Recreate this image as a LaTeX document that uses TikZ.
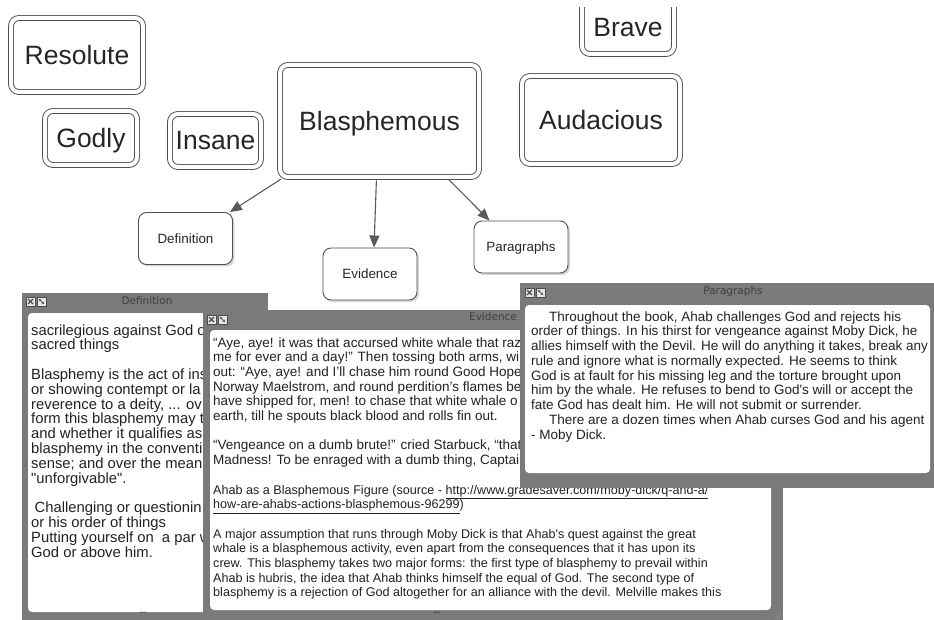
\documentclass[tikz,border=0pt]{standalone}
\usepackage{fontspec}
\setmainfont{Liberation Sans}[Ligatures=TeXOff]
\newfontfamily\wintitlefont{DejaVu Sans}
\usetikzlibrary{arrows.meta,shadows}
\definecolor{boxline}{HTML}{505050}
\definecolor{winframe}{HTML}{7A7A7A}
\definecolor{conncol}{HTML}{5A5A5A}
\definecolor{btnfill}{HTML}{E6E6E6}
\definecolor{bodytext}{HTML}{222222}
\begin{document}
\begin{tikzpicture}[x=1pt,y=-1pt,
  bigbox/.style={draw=boxline, double=white, double distance=4pt, line width=0.9pt,
    rounded corners=8pt, fill=white, inner sep=0pt, text=black!85,
    font=\fontsize{26.5}{30}\selectfont, text height=19pt, text depth=0pt,
    drop shadow={shadow xshift=2pt, shadow yshift=-2pt, opacity=0.3}},
  smallbox/.style={draw=boxline, line width=0.9pt, rounded corners=8pt, fill=white,
    minimum width=94pt, minimum height=52pt, inner sep=0pt, text=black!85,
    font=\fontsize{13.4}{16}\selectfont, text height=9.6pt, text depth=0pt,
    drop shadow={shadow xshift=2pt, shadow yshift=-2pt, opacity=0.3}},
  conn/.style={draw=conncol, line width=1.1pt, shorten <=3pt,
    -{Triangle[length=12pt,width=10pt]}},
  wintitle/.style={font=\wintitlefont\fontsize{10.5}{12}\selectfont, text=black!75, inner sep=0pt},
  winbody/.style={fill=white, rounded corners=4pt},
  textblock/.style={anchor=base west, inner sep=0pt, text=bodytext},
  dots/.style={font=\bfseries\fontsize{8}{8}\selectfont, text=black!80, inner sep=0pt},
  btnline/.style={draw=black!70, line width=0.6pt},
  winbtns/.pic={
    \draw[btnline, fill=btnfill] (0,0) rectangle (9,9);
    \draw[btnline, line width=1.1pt] (2,2) -- (7,7) (7,2) -- (2,7);
    \draw[btnline, fill=btnfill] (11,0) rectangle (20,9);
    \draw[btnline, -{Stealth[length=2.5pt,width=2.5pt]}] (13,2) -- (18,7);
    \draw[btnline, -{Stealth[length=2.5pt,width=2.5pt]}] (18,7) -- (13,2);
  }
]
\useasboundingbox[fill=white] (0,0) rectangle (934,620);

% ---------- concept map ----------
\begin{scope}
  \clip (0,8) rectangle (934,620);
  \node[bigbox, minimum width=92pt, minimum height=54pt] (brave) at (628,27) {Brave};
\end{scope}
\node[bigbox, minimum width=132pt, minimum height=74pt] (resolute) at (77,55) {Resolute};
\node[bigbox, minimum width=92pt, minimum height=54pt] (godly) at (91,138) {Godly};
\node[bigbox, minimum width=91pt, minimum height=53pt] (insane) at (215.5,140.5) {Insane};
\node[bigbox, minimum width=199pt, minimum height=112pt] (blas) at (379.5,121) {Blasphemous};
\node[bigbox, minimum width=158pt, minimum height=88pt] (auda) at (601,120) {Audacious};

\node[smallbox] (def) at (185.5,238.5) {Definition};
\node[smallbox] (evi) at (370,274) {Evidence};
\node[smallbox] (par) at (521,247) {Paragraphs};

\draw[conn] ([xshift=4pt]blas.south west) -- ([xshift=-3pt]def.north east);
\draw[conn] ([xshift=-3pt]blas.south) -- ([xshift=4pt]evi.north);
\draw[conn] ([xshift=67pt]blas.south) -- ([xshift=16pt]par.north west);

% ---------- Definition window ----------
\fill[winframe] (22,293) rectangle (268,620);
\pic at (26,297) {winbtns};
\node[wintitle] (deftitle) at (147,300.5) {Definition};
\fill[winbody] (28,313) rectangle (262,612);
\begin{scope}
\clip (28,313) rectangle (203,612);
\node[textblock, font=\fontsize{14.8}{14.8}\selectfont] (deftext) at (31,335) {\parbox[t]{300pt}{%
sacrilegious against God o\\
sacred things\\
\mbox{}\\
Blasphemy is the act of ins\\
or showing contempt or la\\
reverence to a deity, ... ov\\
form this blasphemy may t\\
and whether it qualifies as\\
blasphemy in the conventi\\
sense; and over the mean\\
"unforgivable".\\
\mbox{}\\
\hspace*{3.5pt}Challenging or questionin\\
or his order of things\\
Putting yourself on\ \ a par w\\
God or above him.}};
\end{scope}
\node[dots] (defdots) at (143,613) {...};

% ---------- Evidence window ----------
\fill[winframe] (203,310) rectangle (783,620);
\pic at (207,315) {winbtns};
\node[wintitle] (evititle) at (493,317) {Evidence};
\fill[winbody] (210,330) rectangle (771,610);
\begin{scope}
\clip (210,330) -- (520,330) -- (520,488) -- (771,488) -- (771,610) -- (210,610) -- cycle;
\node[textblock, font=\fontsize{13.5}{14.7}\selectfont] (evitext) at (213,347) {\parbox[t]{700pt}{%
“Aye, aye! it was that accursed white whale that raz\\
me for ever and a day!” Then tossing both arms, wi\\
out: “Aye, aye! and I’ll chase him round Good Hope\\
Norway Maelstrom, and round perdition’s flames be\\
have shipped for, men! to chase that white whale o\\
earth, till he spouts black blood and rolls fin out.\\
\mbox{}\\
“Vengeance on a dumb brute!” cried Starbuck, “that\\
Madness! To be enraged with a dumb thing, Captai\\
\mbox{}\\
{\fontsize{12.6}{14.7}\selectfont Ahab as a Blasphemous Figure (source - \underline{http://www.gradesaver.com/moby-dick/q-and-a/}}\\
{\fontsize{12.6}{14.7}\selectfont\underline{how-are-ahabs-actions-blasphemous-96299})}\\
\mbox{}\\
{\fontsize{12.6}{14.7}\selectfont A major assumption that runs through Moby Dick is that Ahab's quest against the great}\\
{\fontsize{12.6}{14.7}\selectfont whale is a blasphemous activity, even apart from the consequences that it has upon its}\\
{\fontsize{12.6}{14.7}\selectfont crew. This blasphemy takes two major forms: the first type of blasphemy to prevail within}\\
{\fontsize{12.6}{14.7}\selectfont Ahab is hubris, the idea that Ahab thinks himself the equal of God. The second type of}\\
{\fontsize{12.6}{14.7}\selectfont blasphemy is a rejection of God altogether for an alliance with the devil. Melville makes this}}};
\end{scope}
\node[dots] (evidots) at (437,613) {...};
\draw[black!45, line width=0.5pt] (774,619) -- (781,612) (777,619) -- (781,615);

% ---------- Paragraphs window ----------
\fill[winframe] (520,283) rectangle (934,488);
\pic at (525,288) {winbtns};
\node[wintitle] (partitle) at (733,292) {Paragraphs};
\fill[winbody] (525,305) rectangle (930,473);
\node[textblock, font=\fontsize{13.5}{14.75}\selectfont] (partext) at (531,321) {\parbox[t]{400pt}{%
\hspace*{18pt}Throughout the book, Ahab challenges God and rejects his\\
order of things. In his thirst for vengeance against Moby Dick, he\\
allies himself with the Devil. He will do anything it takes, break any\\
rule and ignore what is normally expected. He seems to think\\
God is at fault for his missing leg and the torture brought upon\\
him by the whale. He refuses to bend to God's will or accept the\\
fate God has dealt him. He will not submit or surrender.\\
\hspace*{18pt}There are a dozen times when Ahab curses God and his agent\\
- Moby Dick.}};
\end{tikzpicture}
\end{document}
